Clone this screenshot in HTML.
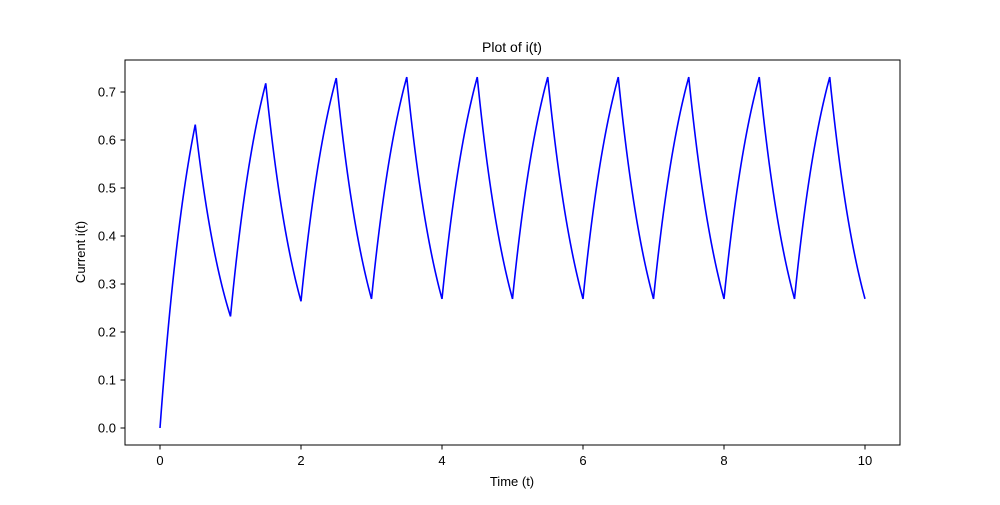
<!DOCTYPE html>
<html><head><meta charset="utf-8"><style>
body{margin:0;background:#fff;}
svg text{font-family:"Liberation Sans","DejaVu Sans",sans-serif;fill:#000;}
</style></head><body>
<svg id="chart" width="1000" height="500" viewBox="0 0 1000 500" xmlns="http://www.w3.org/2000/svg">
<rect x="0" y="0" width="1000" height="500" fill="#fff"/>
<text x="512" y="52" font-size="14" text-anchor="middle">Plot of i(t)</text>
<text x="512" y="486" font-size="13" text-anchor="middle">Time (t)</text>
<text x="85" y="252" font-size="13" text-anchor="middle" transform="rotate(-90 85 252)">Current i(t)</text>
<g id="ticks"></g>
<path id="line" fill="none" stroke="#0000ff" stroke-width="1.6"/>
<rect x="125" y="60" width="775" height="385" fill="none" stroke="#000" stroke-width="1"/>
</svg>
<script>
const times = [0,0.5,1,1.5,2,2.5,3,3.5,4,4.5,5,5.5,6,6.5,7,7.5,8,8.5,9,9.5,10];
const currents = [0,0.632,0.2325,0.718,0.264,0.729,0.269,0.731,0.269,0.731,0.269,0.731,0.269,0.731,0.269,0.731,0.269,0.731,0.269,0.731,0.269];
const xTicks = [0,2,4,6,8,10];
const yTicks = [0.0,0.1,0.2,0.3,0.4,0.5,0.6,0.7];
const X = t => 160 + t*70.5;
const Y = v => 428 - v*480;
const NS="http://www.w3.org/2000/svg";
const g=document.getElementById('ticks');
function mk(tag,attrs){const e=document.createElementNS(NS,tag);for(const k in attrs)e.setAttribute(k,attrs[k]);g.appendChild(e);return e;}
xTicks.forEach(t=>{
  const l=mk('line',{x1:X(t),x2:X(t),y1:445,y2:449.5,stroke:'#000'});
  
  
  const tx=mk('text',{x:X(t),y:465,'font-size':13,'text-anchor':'middle'});tx.textContent=t;
  
  
});
yTicks.forEach(v=>{
  const l=mk('line',{x1:120.5,x2:125,y1:Y(v),y2:Y(v),stroke:'#000'});
  
  
  const tx=mk('text',{x:116,y:Y(v)+4.5,'font-size':13,'text-anchor':'end'});tx.textContent=v.toFixed(1);
  
  
});
let d='M'+X(times[0])+','+Y(currents[0]);
const den=1-Math.exp(-1);
for(let i=0;i<times.length-1;i++){
  const t0=times[i],t1=times[i+1],a=currents[i],b=currents[i+1];
  for(let k=1;k<=25;k++){const s=k/25;const v=a+(b-a)*(1-Math.exp(-s))/den;d+=' L'+X(t0+(t1-t0)*s).toFixed(2)+','+Y(v).toFixed(2);}
}
document.getElementById('line').setAttribute('d',d);
</script>
</body></html>
